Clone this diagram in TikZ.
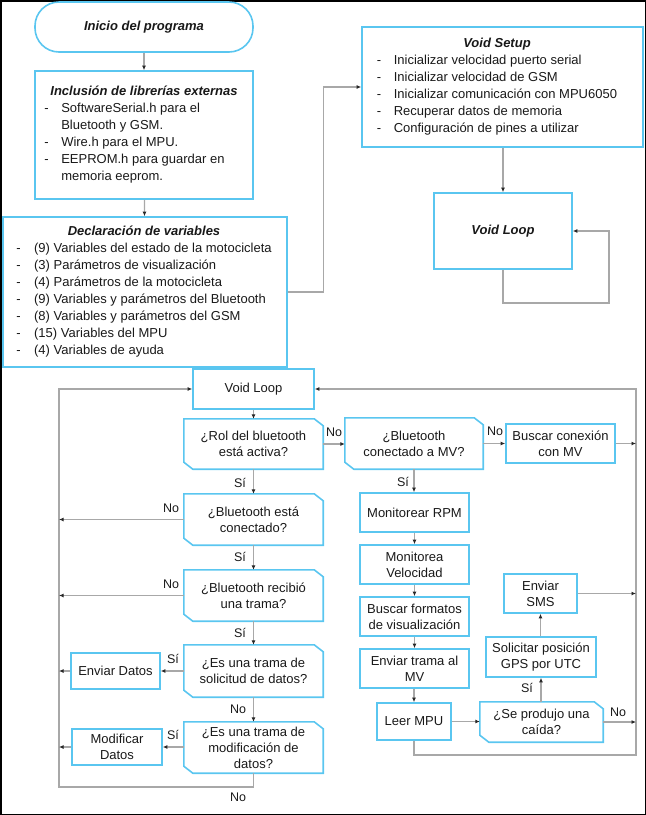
\documentclass[tikz,border=0pt]{standalone}
\usepackage{fontspec}
\setmainfont{Liberation Sans}
\usetikzlibrary{arrows.meta,calc}
\definecolor{boxblue}{RGB}{90,198,240}
\definecolor{linegray}{RGB}{168,168,168}
\definecolor{tipgray}{RGB}{40,40,40}
\newcommand\decoutline[1]{\draw[boxline] (#1.north west) -- ([xshift=-9pt]#1.north east) -- ([yshift=-7pt]#1.north east) -- (#1.south east) -- ([xshift=9pt]#1.south west) -- ([yshift=7pt]#1.south west) -- cycle;}
\tikzset{
  boxline/.style={draw=boxblue, line width=1.6pt},
  box/.style={rectangle, boxline, inner sep=0pt, align=center, font=\fontsize{13}{16}\selectfont, text=black!90},
  decbox/.style={rectangle, inner sep=0pt, align=center, font=\fontsize{13}{16}\selectfont, text=black!90},
  txt/.style={inner sep=0pt, font=\fontsize{13}{17}\selectfont, text=black!90},
  conn/.style={draw=linegray, line width=1.3pt},
  arr/.style={conn, -{Latex[length=4.5pt,width=4pt,color=tipgray]}},
  lbl/.style={font=\fontsize{12.5}{15}\selectfont, text=black!90, inner sep=0pt},
}
\begin{document}
\begin{tikzpicture}[x=1pt,y=-1pt]
\useasboundingbox (0,0) rectangle (646,815);
\draw[line width=1.5pt] (0.75,0.75) rectangle (645.25,814.25);

% ---------- top part ----------
\node[box, rounded corners=24pt, minimum width=218pt, minimum height=50pt, font=\fontsize{13}{16}\selectfont\bfseries\itshape] (start) at (144,27) {Inicio del programa};

\node[box, minimum width=218pt, minimum height=128pt] (incl) at (144,135) {};
\node[txt] (incltxt) at (144,135) {\begin{tabular}{@{}l@{\hspace{12.5pt}}l@{}}
\multicolumn{2}{c}{\bfseries\itshape Inclusión de librerías externas}\\
-&SoftwareSerial.h para el\\
&Bluetooth y GSM.\\
-&Wire.h para el MPU.\\
-&EEPROM.h para guardar en\\
&memoria eeprom.
\end{tabular}};

\node[box, minimum width=284pt, minimum height=150pt] (decl) at (145,292) {};
\node[txt] (decltxt) at (144,292) {\begin{tabular}{@{}l@{\hspace{13.5pt}}l@{}}
\multicolumn{2}{c}{\bfseries\itshape Declaración de variables}\\
-&(9) Variables del estado de la motocicleta\\
-&(3) Parámetros de visualización\\
-&(4) Parámetros de la motocicleta\\
-&(9) Variables y parámetros del Bluetooth\\
-&(8) Variables y parámetros del GSM\\
-&(15) Variables del MPU\\
-&(4) Variables de ayuda
\end{tabular}};

\node[box, minimum width=281pt, minimum height=120pt] (setup) at (502.5,87) {};
\node[txt] (setuptxt) at (497,87) {\begin{tabular}{@{}l@{\hspace{12.5pt}}l@{}}
\multicolumn{2}{c}{\bfseries\itshape Void Setup}\\
-&Inicializar velocidad puerto serial\\
-&Inicializar velocidad de GSM\\
-&Inicializar comunicación con MPU6050\\
-&Recuperar datos de memoria\\
-&Configuración de pines a utilizar
\end{tabular}};

\node[box, minimum width=138pt, minimum height=76pt, font=\fontsize{13}{16}\selectfont\bfseries\itshape] (loop1) at (503,231) {Void Loop};
\coordinate (sl) at (609,303);

\draw[arr] (start) -- (incl);
\draw[arr] (incl) -- (decl);
\draw[arr] (decl.east) -- ++(36,0) |- (setup.west);
\draw[arr] (setup.south -| loop1.north) -- (loop1.north);
\draw[arr] (loop1.south) |- (sl) |- (loop1.east);

% ---------- bottom part ----------
\node[box, minimum width=121pt, minimum height=40pt] (loop2) at (253.5,389) {Void Loop};

\node[decbox, minimum width=139pt, minimum height=50pt] (d1) at (253.5,444) {¿Rol del bluetooth\\está activa?};
\node[decbox, minimum width=138pt, minimum height=51pt] (dmv) at (414,443.5) {¿Bluetooth\\conectado a MV?};
\node[box, minimum width=109pt, minimum height=39pt] (bmv) at (560.5,443.5) {Buscar conexión\\con MV};
\node[box, minimum width=109pt, minimum height=39pt] (rpm) at (414.5,512.5) {Monitorear RPM};
\node[box, minimum width=109pt, minimum height=39pt] (vel) at (414.5,564.5) {Monitorea\\Velocidad};
\node[box, minimum width=109pt, minimum height=39pt] (fmt) at (414.5,616.5) {Buscar formatos\\de visualización};
\node[box, minimum width=109pt, minimum height=39pt] (trm) at (414.5,668.5) {Enviar trama al\\MV};
\node[box, minimum width=74pt, minimum height=37pt] (leer) at (414,721.5) {Leer MPU};
\node[decbox, minimum width=123pt, minimum height=40pt] (caida) at (541.5,722) {¿Se produjo una\\caída?};
\node[box, minimum width=110pt, minimum height=40pt] (gps) at (541,657) {Solicitar posición\\GPS por UTC};
\node[box, minimum width=73pt, minimum height=39pt] (sms) at (540.5,593.5) {Enviar\\SMS};

\node[decbox, minimum width=139pt, minimum height=51pt] (d2) at (253.5,519.5) {¿Bluetooth está\\conectado?};
\node[decbox, minimum width=139pt, minimum height=51pt] (d3) at (253.5,595.5) {¿Bluetooth recibió\\una trama?};
\node[decbox, minimum width=139pt, minimum height=52pt] (d4) at (253.5,671) {¿Es una trama de\\solicitud de datos?};
\node[box, minimum width=89pt, minimum height=36pt] (envd) at (115.5,671) {Enviar Datos};
\node[decbox, minimum width=139pt, minimum height=51pt] (d5) at (253.5,747.5) {¿Es una trama de\\modificación de\\datos?};
\node[box, minimum width=90pt, minimum height=36pt] (modd) at (117,747) {Modificar\\Datos};

\decoutline{d1}
\decoutline{dmv}
\decoutline{caida}
\decoutline{d2}
\decoutline{d3}
\decoutline{d4}
\decoutline{d5}

\coordinate (lt) at (59,389);
\coordinate (lb) at (59,787);
\coordinate (rt) at (636,389);
\coordinate (rb) at (636,755);

% rails
\draw[arr] (d5.south) |- (lb) -- (lt) -- (loop2.west);
\draw[arr] (leer.south) |- (rb) -- (rt) -- (loop2.east);

% main flow
\draw[arr] (loop2) -- (d1);
\draw[arr] (d1) -- (d2);
\draw[arr] (d2) -- (d3);
\draw[arr] (d3) -- (d4);
\draw[arr] (d4) -- (d5);
\draw[arr] (d1.east) -- (dmv.west |- d1.east);
\draw[arr] (dmv.east |- bmv.west) -- (bmv.west);
\draw[arr] (bmv.east) -- (bmv.east -| rt);
\draw[arr] (dmv.south) -- (dmv.south |- rpm.north);
\draw[arr] (rpm) -- (vel);
\draw[arr] (vel) -- (fmt);
\draw[arr] (fmt) -- (trm);
\draw[arr] (trm.south -| leer.north) -- (leer.north);
\draw[arr] (leer.east) -- (leer.east -| caida.west);
\draw[arr] (caida.east) -- (caida.east -| rt);
\draw[arr] (caida.north -| gps.south) -- (gps.south);
\draw[arr] (gps.north -| sms.south) -- (sms.south);
\draw[arr] (sms.east) -- (sms.east -| rt);

\draw[arr] (d2.west) -- (d2.west -| lt);
\draw[arr] (d3.west) -- (d3.west -| lt);
\draw[arr] (d4.west) -- (envd.east);
\draw[arr] (envd.west) -- (envd.west -| lt);
\draw[arr] (d5.west |- modd.east) -- (modd.east);
\draw[arr] (modd.west) -- (modd.west -| lt);

% labels
\node[lbl] (l1) at (334,432) {No};
\node[lbl] (l2) at (495,431) {No};
\node[lbl] (l3) at (403,482) {Sí};
\node[lbl] (l4) at (240,483) {Sí};
\node[lbl] (l5) at (171,508) {No};
\node[lbl] (l6) at (240,557) {Sí};
\node[lbl] (l7) at (171,584) {No};
\node[lbl] (l8) at (240,633) {Sí};
\node[lbl] (l9) at (173,659) {Sí};
\node[lbl] (l10) at (238,709) {No};
\node[lbl] (l11) at (173,735) {Sí};
\node[lbl] (l12) at (238,797) {No};
\node[lbl] (l13) at (527,688) {Sí};
\node[lbl] (l14) at (618,712) {No};
\end{tikzpicture}
\end{document}
